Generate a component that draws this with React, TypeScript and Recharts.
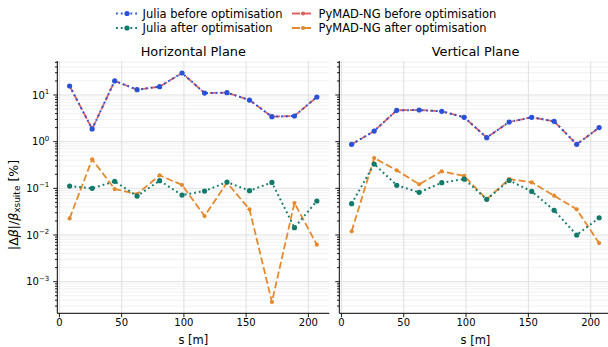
import React from 'react';
import { LineChart, Line, XAxis, YAxis, CartesianGrid } from 'recharts';

// ---------------- data ----------------
const sPositions = [8.2, 26.3, 44.4, 62.4, 80.5, 98.5, 116.6, 134.6, 152.7, 170.7, 188.8, 206.8];

const horizJuliaBefore = [15.6, 1.87, 20.0, 13.0, 15.1, 29.6, 11.0, 11.2, 7.8, 3.43, 3.55, 9.06];
const horizJuliaAfter = [0.112, 0.1, 0.141, 0.0684, 0.146, 0.0718, 0.0875, 0.136, 0.089, 0.134, 0.0143, 0.0535];
const horizPymadBefore = [15.6, 1.87, 20.0, 13.0, 15.1, 29.6, 11.0, 11.2, 7.8, 3.43, 3.55, 9.06];
const horizPymadAfter = [0.0227, 0.418, 0.0966, 0.0755, 0.19, 0.118, 0.0255, 0.132, 0.0355, 0.000367, 0.0484, 0.0062];

const vertJuliaBefore = [0.877, 1.69, 4.7, 4.77, 4.47, 3.33, 1.22, 2.64, 3.33, 2.73, 0.877, 2.0];
const vertJuliaAfter = [0.0468, 0.332, 0.116, 0.082, 0.132, 0.158, 0.058, 0.148, 0.086, 0.0338, 0.01, 0.0234];
const vertPymadBefore = [0.877, 1.69, 4.7, 4.77, 4.47, 3.33, 1.22, 2.64, 3.33, 2.73, 0.877, 2.0];
const vertPymadAfter = [0.012, 0.446, 0.243, 0.122, 0.231, 0.184, 0.058, 0.158, 0.134, 0.0695, 0.0355, 0.0067];

const panelTitles = ['Horizontal Plane', 'Vertical Plane'];
const xLabel = 's [m]';
const xTicks = [0, 50, 100, 150, 200];
const yMajorTicks = [0.001, 0.01, 0.1, 1, 10];
const yMajorExponents = ['\u22123', '\u22122', '\u22121', '0', '1'];
const yMinorTicks = [
  0.0003, 0.0004, 0.0005, 0.0006, 0.0007, 0.0008, 0.0009,
  0.002, 0.003, 0.004, 0.005, 0.006, 0.007, 0.008, 0.009,
  0.02, 0.03, 0.04, 0.05, 0.06, 0.07, 0.08, 0.09,
  0.2, 0.3, 0.4, 0.5, 0.6, 0.7, 0.8, 0.9,
  2, 3, 4, 5, 6, 7, 8, 9,
  20, 30, 40, 50,
];

// ---------------- styling ----------------
const FONT = '"DejaVu Sans", sans-serif';
const xDomain: [number, number] = [-1.7, 216.8];
const yDomain: [number, number] = [0.00021, 53.5];

type SeriesStyle = { key: string; name: string; color: string; dash: string; width: number; r: number };
const seriesStyles: SeriesStyle[] = [
  { key: 'juliaBefore', name: 'Julia before optimisation', color: '#2a52d8', dash: '1.8 3', width: 2, r: 2.6 },
  { key: 'juliaAfter', name: 'Julia after optimisation', color: '#137a6a', dash: '1.8 3', width: 2, r: 2.6 },
  { key: 'pymadBefore', name: 'PyMAD-NG before optimisation', color: '#df6262', dash: '7 3', width: 1.8, r: 2.1 },
  { key: 'pymadAfter', name: 'PyMAD-NG after optimisation', color: '#e6892c', dash: '7 3', width: 1.8, r: 2.1 },
];
const drawOrder = ['pymadBefore', 'pymadAfter', 'juliaBefore', 'juliaAfter'];

const horizData = sPositions.map((s, i) => ({
  s,
  juliaBefore: horizJuliaBefore[i],
  juliaAfter: horizJuliaAfter[i],
  pymadBefore: horizPymadBefore[i],
  pymadAfter: horizPymadAfter[i],
}));
const vertData = sPositions.map((s, i) => ({
  s,
  juliaBefore: vertJuliaBefore[i],
  juliaAfter: vertJuliaAfter[i],
  pymadBefore: vertPymadBefore[i],
  pymadAfter: vertPymadAfter[i],
}));

const allYTicks = [...yMajorTicks, ...yMinorTicks].sort((a, b) => a - b);

function makeYTick(showLabels: boolean) {
  return (props: any) => {
    const { x, y, payload } = props;
    const v = payload.value;
    const mi = yMajorTicks.findIndex((t) => Math.abs(Math.log10(t) - Math.log10(v)) < 1e-6);
    const isMajor = mi >= 0;
    const len = isMajor ? 4 : 2.3;
    return (
      <g>
        <line x1={x - len} x2={x} y1={y} y2={y} stroke="#000" strokeWidth={0.9} />
        {showLabels && isMajor ? (
          <text x={x - 8} y={y} dy={3.6} textAnchor="end" fontSize={10} fontFamily={FONT} fill="#000">
            <tspan>10</tspan>
            <tspan dy={-4.5} fontSize={7}>{yMajorExponents[mi]}</tspan>
          </text>
        ) : null}
      </g>
    );
  };
}

function Panel({ data, showYLabels, width, margin }: any) {
  return (
    <LineChart width={width} height={347} data={data} margin={margin}>
      <CartesianGrid horizontalValues={yMinorTicks} vertical={false} stroke="#ebebeb" strokeWidth={0.7} />
      <CartesianGrid horizontalValues={yMajorTicks} verticalValues={xTicks} stroke="#d8d8d8" strokeWidth={0.8} />
      <XAxis
        dataKey="s"
        type="number"
        domain={xDomain}
        allowDataOverflow
        ticks={xTicks}
        interval={0}
        height={33.7}
        tickSize={4}
        tickMargin={2}
        tick={{ fontSize: 10, fill: '#000', fontFamily: FONT }}
        tickLine={{ stroke: '#000', strokeWidth: 0.9 }}
        axisLine={{ stroke: '#000', strokeWidth: 1 }}
        label={{ value: xLabel, position: 'insideBottom', offset: 3, fontSize: 11.5, fill: '#000', fontFamily: FONT }}
      />
      <XAxis
        xAxisId="top"
        orientation="top"
        dataKey="s"
        type="number"
        domain={xDomain}
        allowDataOverflow
        height={0}
        tick={false}
        tickLine={false}
        axisLine={{ stroke: '#000', strokeWidth: 1 }}
      />
      <YAxis
        type="number"
        scale="log"
        domain={yDomain}
        allowDataOverflow
        ticks={allYTicks}
        interval={0}
        width={showYLabels ? 47 : 9.3}
        tickSize={0}
        tickMargin={0}
        tickLine={false}
        tick={makeYTick(showYLabels)}
        axisLine={{ stroke: '#000', strokeWidth: 1 }}
      />
      <YAxis
        yAxisId="right"
        orientation="right"
        type="number"
        scale="log"
        domain={yDomain}
        allowDataOverflow
        width={0}
        tick={false}
        tickLine={false}
        axisLine={{ stroke: '#000', strokeWidth: 1 }}
      />
      {drawOrder.map((k) => {
        const st = seriesStyles.find((s) => s.key === k)!;
        return (
          <Line
            key={k}
            dataKey={k}
            name={st.name}
            stroke={st.color}
            strokeWidth={st.width}
            strokeDasharray={st.dash}
            dot={{ r: st.r, fill: st.color, stroke: 'none', strokeDasharray: 'none' }}
            activeDot={false}
            isAnimationActive={false}
          />
        );
      })}
    </LineChart>
  );
}

function LegendSvg() {
  const cols = [116, 292];
  const rows = [13.5, 28];
  const layout = [
    { key: 'juliaBefore', col: 0, row: 0 },
    { key: 'juliaAfter', col: 0, row: 1 },
    { key: 'pymadBefore', col: 1, row: 0 },
    { key: 'pymadAfter', col: 1, row: 1 },
  ];
  return (
    <g>
      {layout.map((l) => {
        const st = seriesStyles.find((s) => s.key === l.key)!;
        const x0 = cols[l.col];
        const y = rows[l.row];
        const isDash = st.dash.startsWith('7');
        return (
          <g key={l.key}>
            <line x1={x0} x2={x0 + 22} y1={y} y2={y} stroke={st.color} strokeWidth={st.width} strokeDasharray={isDash ? '8 3' : st.dash} />
            <circle cx={x0 + 11} cy={y} r={st.r} fill={st.color} />
            <text x={x0 + 26.5} y={y + 4.2} fontSize={11.5} fontFamily={FONT} fill="#000">{st.name}</text>
          </g>
        );
      })}
    </g>
  );
}

export default function App() {
  return (
    <div style={{ position: 'absolute', left: 0, top: 0, width: 608, height: 347, overflow: 'hidden', background: '#fff' }}>
      <div style={{ position: 'absolute', left: 0, top: 0 }}>
        <Panel data={horizData} showYLabels width={340} margin={{ top: 61, right: 10.7, bottom: 0, left: 10.3 }} />
      </div>
      <div style={{ position: 'absolute', left: 330, top: 0 }}>
        <Panel data={vertData} showYLabels={false} width={286.6} margin={{ top: 61, right: 5, bottom: 0, left: 0 }} />
      </div>
      <svg width={608} height={347} style={{ position: 'absolute', left: 0, top: 0, pointerEvents: 'none' }}>
        <LegendSvg />
        <text x={193.3} y={55.6} textAnchor="middle" fontSize={12.9} fontFamily={FONT} fill="#000">{panelTitles[0]}</text>
        <text x={475.5} y={55.6} textAnchor="middle" fontSize={12.9} fontFamily={FONT} fill="#000">{panelTitles[1]}</text>
        <text transform="translate(17.5,205) rotate(-90)" textAnchor="middle" fontSize={12.5} fontFamily={FONT} fill="#000">
          <tspan>|Δ</tspan>
          <tspan fontStyle="italic">β</tspan>
          <tspan>|/</tspan>
          <tspan fontStyle="italic">β</tspan>
          <tspan dy={2.8} fontSize={9}>xsuite</tspan>
          <tspan dy={-2.8}> [%]</tspan>
        </text>
      </svg>
    </div>
  );
}
